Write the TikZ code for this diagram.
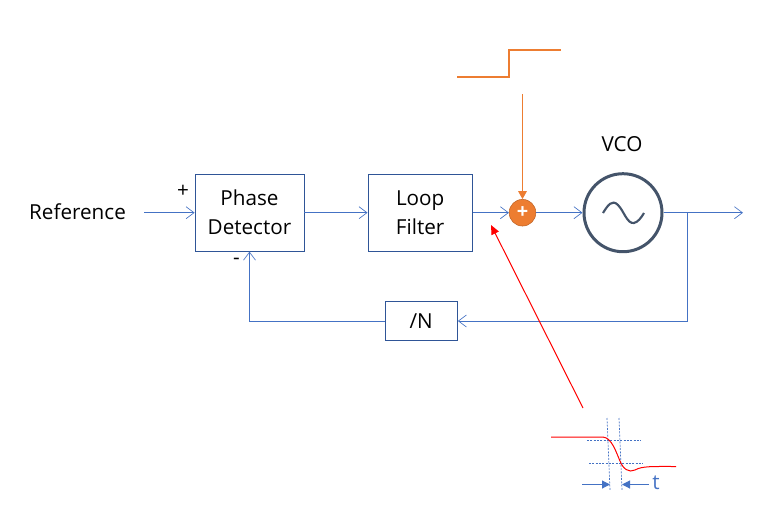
\documentclass[tikz,border=0pt]{standalone}
\usepackage{fontspec}
\setmainfont{Open Sans}
\usetikzlibrary{arrows.meta}
\definecolor{cWire}{RGB}{68,114,196}
\definecolor{cBox}{RGB}{47,85,151}
\definecolor{cVco}{RGB}{68,84,106}
\definecolor{cStep}{RGB}{237,125,49}
\tikzset{
  block/.style={draw=cBox,line width=0.6pt,minimum height=57.75pt,align=center,inner sep=0pt,font=\fontsize{15.5}{21.75}\selectfont},
  wire/.style={cWire,line width=0.75pt,-{Straight Barb[length=6pt,width=9pt,line width=0.5pt]}},
  lab/.style={font=\fontsize{15.5}{18}\selectfont,inner sep=0pt},
  guide/.style={cWire,line width=0.5pt,dash pattern=on 1.5pt off 1pt},
  dimline/.style={cWire,line width=0.8pt,-{Triangle[length=6pt,width=6pt]}}
}
\begin{document}
\begin{tikzpicture}[x=0.75pt,y=-0.75pt]
\useasboundingbox (0,0) rectangle (769,522);
% blocks
\node[block,minimum width=81.75pt] (pd) at (249.5,212.7) {Phase\\Detector};
\node[block,minimum width=78.4pt] (lf) at (420.2,212.7) {Loop\\Filter};
\node[block,minimum width=54.4pt,minimum height=28.8pt] (div) at (421.2,321) {/N};
\node[circle,draw=cVco,line width=2.25pt,minimum size=58.5pt,inner sep=0pt] (vco) at (623,212.7) {};
\node[circle,fill=cStep,draw=cStep!80!black,line width=0.4pt,minimum size=20pt,inner sep=0pt,text=white,font=\bfseries\fontsize{15}{15}\selectfont] (sum) at (522.5,212.7) {+};
% labels
\node[lab] (ref) at (77.5,212) {Reference};
\node[lab] (plus) at (183,191.5) {+};
\node[lab] (minus) at (236.5,261) {-};
\node[lab] (vcolab) at (622,144) {VCO};
% free ends
\coordinate (in) at (144,212.7);
\coordinate (out) at (743,212.7);
\coordinate (tap) at (687,212.7);
\coordinate (stepin) at (522.5,94);
\coordinate (kickfrom) at (583,408);
\coordinate (kickto) at (491,225);
% signal path
\draw[wire] (in) -- (pd);
\draw[wire] (pd) -- (lf);
\draw[wire] (lf) -- (sum);
\draw[wire] (sum) -- (vco);
\draw[wire] (vco) -- (out);
\draw[wire] (tap) |- (div);
\draw[wire] (div) -| (pd);
% injected step
\draw[cStep,line width=1.6pt] (457,77) -- (509,77) -- (509,50) -- (561,50);
\draw[cStep,line width=0.75pt,-{Triangle[length=6pt,width=6.5pt]}] (stepin) -- (sum);
\draw[red,line width=0.75pt,-{Triangle[length=7pt,width=6pt]}] (kickfrom) -- (kickto);
% oscillator symbol
\draw[cVco,line width=1.6pt] (603,213) .. controls (608,205) and (612,199) .. (618,205) .. controls (624,211) and (627,224) .. (634,223) .. controls (638,222) and (641,218) .. (644,213);
% inset
\draw[guide] (607,418) -- (610,490);
\draw[guide] (619,418) -- (622,490);
\draw[guide] (587,440.5) -- (641,440.5);
\draw[guide] (589,463.5) -- (643,463.5);
\draw[red,line width=0.75pt] (551,437) -- (603,437) .. controls (612,438) and (616,452) .. (620,461) .. controls (623,469) and (629,473) .. (635,470) .. controls (642,466) and (652,466.5) .. (676,466.5);
\coordinate (ta) at (582,484.5);
\coordinate (tb) at (610,484.5);
\coordinate (tc) at (649,484.5);
\coordinate (td) at (622,484.5);
\draw[dimline] (ta) -- (tb);
\draw[dimline] (tc) -- (td);
\node[lab,text=cWire,anchor=west] (tlab) at (652,483) {t};
\end{tikzpicture}
\end{document}
